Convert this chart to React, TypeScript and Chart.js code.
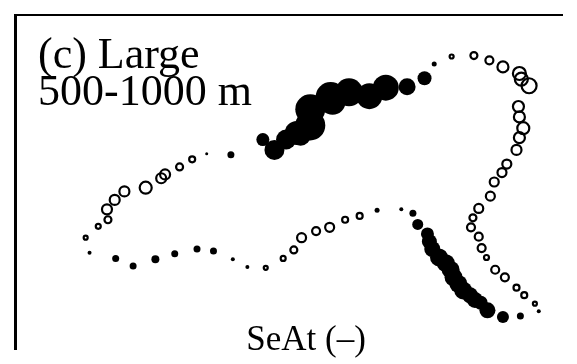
import React, { useEffect, useRef } from "react";
import { Chart, registerables } from "chart.js";

Chart.register(...registerables);

// Panel labels
const panelTitle = ["(c) Large", "500-1000 m"];
const axisLabel = "SeAt (\u2013)";

// Filled markers: x, y, size (radius)
const filledX = [
  8.9, 11.6, 13.4, 15.7, 17.7, 20.0, 21.7, 23.7, 25.2,
  38.6, 41.1, 42.3, 42.8, 43.8, 44.0, 44.3, 45.0, 45.7, 46.2, 46.5, 47.0, 47.5, 48.2, 48.7, 49.3, 50.0, 51.6, 53.4, 55.3,
  21.0, 23.5,
  26.8, 28.0, 29.2, 30.3, 30.7, 31.7, 31.7, 33.8, 34.0, 35.7, 37.8, 39.5, 41.7, 43.5, 44.5,
];
const filledY = [
  10.2, 9.6, 8.8, 9.5, 10.1, 10.6, 10.4, 9.5, 8.7,
  14.7, 14.8, 14.4, 13.2, 12.2, 11.4, 10.6, 9.7, 9.1, 8.4, 7.6, 6.9, 6.2, 5.7, 5.2, 4.9, 4.1, 3.4, 3.5, 4.0,
  20.7, 20.6,
  22.2, 21.1, 22.2, 22.9, 22.6, 23.7, 25.4, 26.7, 26.2, 27.2, 26.8, 27.7, 27.8, 28.7, 30.2,
];
const filledR = [
  2, 3.5, 3.5, 4, 3.5, 3.5, 3.5, 2, 2,
  2.5, 2, 3.5, 5.5, 6.5, 7.5, 8, 9, 9, 9, 9, 9, 9, 8, 8, 7, 8, 6, 3.5, 2,
  1.5, 3.5,
  6.5, 10, 10, 12, 10, 15, 15, 15, 13, 14, 13, 13, 8.5, 7, 2.5,
];

// Open markers: x, y, size (radius)
const openX = [
  8.5, 9.8, 10.8, 10.7, 11.5, 12.5, 14.7, 16.3, 16.7, 18.2, 19.5,
  27.1, 28.9, 30.0, 30.8, 32.3, 33.7, 35.3, 36.8,
  46.3, 48.6, 50.2, 51.6, 53.3, 53.5, 54.3, 53.2, 53.3, 53.7, 53.3, 53.0, 52.0, 51.5, 50.7, 50.3,
  49.1, 48.5, 48.3, 49.1, 49.4, 49.9, 50.8, 51.8, 53.0, 53.8, 54.9,
];
const openY = [
  11.8, 13.0, 13.7, 14.8, 15.8, 16.7, 17.1, 18.1, 18.5, 19.3, 20.1,
  8.6, 9.6, 10.5, 11.8, 12.5, 12.9, 13.7, 14.1,
  31.0, 31.1, 30.6, 29.9, 29.2, 28.6, 27.9, 25.7, 24.6, 23.4, 22.4, 21.1, 19.6, 18.7, 17.7, 16.2,
  14.9, 13.9, 12.9, 11.9, 10.7, 9.7, 8.4, 7.6, 6.5, 5.7, 4.8,
];
const openR = [
  3, 3.5, 4.5, 6, 6, 6, 7, 6, 6, 4.5, 4,
  3, 3.5, 4.5, 5.5, 5, 5.5, 4, 4,
  3, 4.5, 5, 6.5, 7.5, 7.5, 8.5, 6.5, 6.5, 7, 6.5, 6, 5.5, 5.5, 5.5, 5.5,
  5.5, 4.5, 5, 5, 5, 3.5, 5, 5, 4, 4, 3,
];

const X_MIN = 1.2;
const X_MAX = 57.7;
const Y_MIN = 0;
const Y_MAX = 35.4;

const framePlugin = {
  id: "frameAndText",
  afterDraw(chart: any) {
    const { ctx, chartArea } = chart;
    const { left, top, right, bottom } = chartArea;
    ctx.save();
    ctx.fillStyle = "#000";
    ctx.fillRect(left - 1, top - 1, 3, bottom - top + 2);
    ctx.fillRect(left - 1, top - 1, right - left + 2, 2);
    ctx.font = "44px 'Liberation Serif'";
    ctx.textAlign = "left";
    ctx.textBaseline = "alphabetic";
    ctx.fillText(panelTitle[0], left + 23, top + 53);
    ctx.fillText(panelTitle[1], left + 23, top + 90);
    ctx.font = "35px 'Liberation Serif'";
    ctx.textAlign = "center";
    ctx.fillText(axisLabel, left + 291, top + 335);
    ctx.restore();
  },
};

export default function App() {
  const ref = useRef<HTMLCanvasElement | null>(null);
  useEffect(() => {
    document.documentElement.style.overflow = "hidden";
    document.body.style.overflow = "hidden";
    document.body.style.margin = "0";
    if (!ref.current) return;
    const filled = filledX.map((x, i) => ({ x, y: filledY[i], r: filledR[i] }));
    const open = openX.map((x, i) => ({ x, y: openY[i], r: openR[i] - 1 }));
    const chart = new Chart(ref.current, {
      type: "bubble",
      data: {
        datasets: [
          {
            label: "filled",
            data: filled,
            backgroundColor: "#000",
            borderColor: "#000",
            borderWidth: 0,
            clip: false,
          },
          {
            label: "open",
            data: open,
            backgroundColor: "rgba(0,0,0,0)",
            borderColor: "#000",
            borderWidth: 2.2,
            clip: false,
          },
        ],
      },
      options: {
        responsive: false,
        animation: false,
        layout: { padding: { left: 12, top: 10, right: 0, bottom: 0 } },
        plugins: {
          legend: { display: false },
          tooltip: { enabled: false },
        },
        scales: {
          x: { type: "linear", min: X_MIN, max: X_MAX, display: false },
          y: { type: "linear", min: Y_MIN, max: Y_MAX, display: false },
        },
      },
      plugins: [framePlugin],
    });
    return () => chart.destroy();
  }, []);
  return (
    <div style={{ position: "fixed", left: 0, top: 0, width: 577, height: 364, background: "#fff", overflow: "hidden" }}>
      <canvas ref={ref} width={577} height={364} style={{ width: 577, height: 364, display: "block" }} />
    </div>
  );
}
